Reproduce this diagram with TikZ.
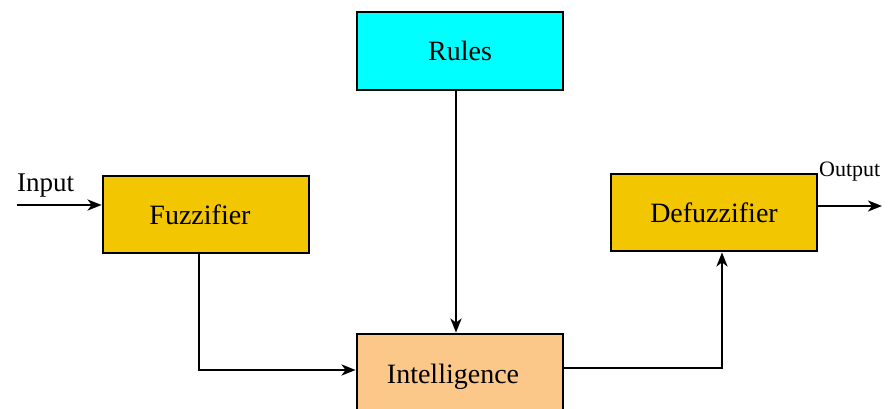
\documentclass[tikz,border=0pt]{standalone}
\usepackage{fontspec}
\setmainfont{Liberation Serif}
\usetikzlibrary{arrows.meta}
\definecolor{cyanbox}{HTML}{00FFFF}
\definecolor{goldbox}{HTML}{F2C600}
\definecolor{peachbox}{HTML}{FCC88A}
\begin{document}
\begin{tikzpicture}[x=1pt,y=-1pt,
  blk/.style={draw=black,line width=2.8pt,minimum width=206pt,minimum height=77pt,inner sep=0pt,font=\fontsize{28}{30}\selectfont},
  arr/.style={line width=2.4pt,-{Stealth[length=14pt,width=11pt,inset=4pt]}},
  lbl/.style={inner sep=0pt,anchor=base west}]
\useasboundingbox (0,0) rectangle (889,408);
\node[blk,fill=cyanbox,minimum height=78pt] (rules) at (460,51) {Rules};
\node[blk,fill=goldbox] (fuzz) at (206,214.5) {Fuzzifier\kern12pt};
\node[blk,fill=goldbox] (defuzz) at (714,212.5) {Defuzzifier};
\node[blk,fill=peachbox,minimum height=86pt] (intel) at (460,377) {Intelligence\kern14pt};
\node[lbl,font=\fontsize{27}{30}\selectfont] (inlbl) at (17,191) {Input};
\node[lbl,font=\fontsize{22}{24}\selectfont] (outlbl) at (819,176) {Output};
\coordinate (inpt) at (17,205);
\coordinate (outpt) at (882,206);
\draw[arr] (inpt) -- (fuzz.west |- inpt);
\draw[arr] (defuzz.east |- outpt) -- (outpt);
\draw[arr] ([xshift=-4pt]rules.south) -- ([xshift=-4pt]intel.north);
\draw[arr] ([xshift=-7pt]fuzz.south) |- ([yshift=7pt]intel.west);
\draw[arr] ([yshift=9pt]intel.east) -| ([xshift=8pt]defuzz.south);
\end{tikzpicture}
\end{document}
